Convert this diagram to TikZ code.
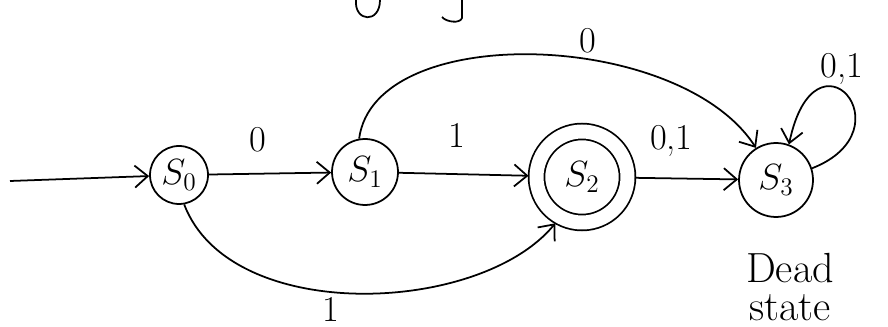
\documentclass[tikz,border=0pt]{standalone}
\usetikzlibrary{arrows.meta}
\begin{document}
\begin{tikzpicture}[x=0.02cm, y=-0.02cm, line width=1pt,
    >={Straight Barb[length=2.6mm, width=4.4mm]},
    state/.style={draw, circle, inner sep=0pt, font=\huge},
    lbl/.style={font=\huge}]
    \useasboundingbox (0,0) rectangle (888,327);

    % cut-off strokes at the top edge
    \draw (356,0) .. controls (354,22) and (380,24) .. (380,0);
    \draw (462,0) -- (462,18) .. controls (460,24) and (446,22) .. (442,17);

    % states
    \node[state, minimum size=1.16cm] (s0) at (179,175) {$S_0$};
    \node[state, minimum size=1.32cm] (s1) at (365,172) {$S_1$};
    \node[state, minimum size=1.82cm, double, double distance=0.28cm,
          outer sep=0.16cm] (s2) at (582,177) {$S_2$};
    \node[state, minimum size=1.48cm] (s3) at (776,180) {$S_3$};
    \coordinate (start) at (10,181);

    % transitions
    \draw[->] (start) -- (s0);
    \draw[->] (s0) -- node[lbl, above=3mm, pos=0.4] {0} (s1);
    \draw[->] (s1) -- node[lbl, above=4mm, pos=0.45] {1} (s2);
    \draw[->] (s2) -- node[lbl, above=3mm, pos=0.35] {0,1} (s3);
    \draw[->] (s1.100) .. controls (375,20) and (680,30) .. node[lbl, above=0mm, pos=0.6] {0} (s3.122);
    \draw[->] (s0.-80) .. controls (230,325) and (480,315) .. node[lbl, inner sep=1pt, below=0.5mm, pos=0.44] {1} (s2.-120);
    \draw[->] (s3.18) .. controls (910,130) and (815,20) .. node[lbl, above=0mm, pos=0.55] {0,1} (s3.70);

    \node[font=\fontsize{24}{22}\selectfont, align=center] (dead) at (790,287) {Dead\\state};
\end{tikzpicture}
\end{document}
